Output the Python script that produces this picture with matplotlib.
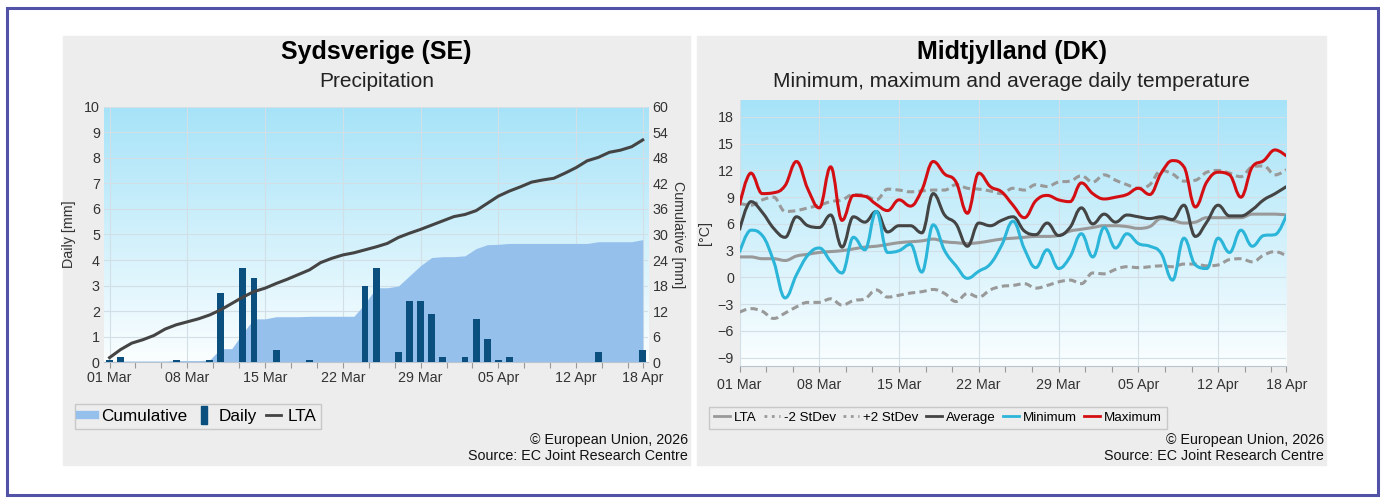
"""
Precipitation (Sydsverige) and temperature (Midtjylland) panels
"""

import numpy as np
import matplotlib
matplotlib.use('Agg')
import matplotlib.pyplot as plt
from matplotlib.path import Path
from matplotlib.patches import PathPatch, Rectangle
from matplotlib.lines import Line2D
from matplotlib.colors import LinearSegmentedColormap

plt.rcParams['font.family'] = ['Liberation Sans', 'DejaVu Sans']

# ---- data -------------------------------------------------------------
days = np.arange(49)  # 01 Mar .. 18 Apr
tick_pos = [0, 7, 14, 21, 28, 35, 42, 48]
tick_labels = ['01 Mar', '08 Mar', '15 Mar', '22 Mar', '29 Mar', '05 Apr', '12 Apr', '18 Apr']

daily_precip = [0.1, 0.2, 0, 0, 0, 0, 0.1, 0, 0, 0.1,
                2.7, 0, 3.7, 3.3, 0, 0.5, 0, 0, 0.1, 0,
                0, 0, 0, 3.0, 3.7, 0, 0.4, 2.4, 2.4, 1.9,
                0.2, 0, 0.2, 1.7, 0.9, 0.1, 0.2, 0, 0, 0,
                0, 0, 0, 0, 0.4, 0, 0, 0, 0.5]
precip_lta = [1.1, 3.0, 4.5, 5.3, 6.3, 7.8, 8.8, 9.5, 10.2, 11.1,
              12.3, 13.8, 15.3, 16.6, 17.4, 18.5, 19.5, 20.6, 21.7, 23.4,
              24.4, 25.2, 25.7, 26.4, 27.1, 27.9, 29.3, 30.3, 31.2, 32.2,
              33.2, 34.2, 34.7, 35.6, 37.3, 39.0, 40.2, 41.2, 42.3, 42.8,
              43.2, 44.4, 45.7, 47.3, 48.1, 49.3, 49.8, 50.6, 52.2]

t_max = [8.1, 11.7, 9.4, 9.5, 10.3, 13.0, 9.9, 7.8, 12.4, 6.4,
         9.2, 9.1, 8.2, 7.5, 8.7, 8.0, 9.8, 13.0, 11.6, 10.7,
         7.2, 11.7, 10.2, 9.6, 8.1, 6.7, 8.6, 9.2, 8.7, 8.5,
         10.6, 9.4, 8.8, 9.0, 9.3, 10.0, 9.3, 11.7, 13.1, 12.4,
         7.9, 10.7, 11.8, 11.5, 9.0, 12.4, 13.1, 14.3, 13.6]
t_avg = [5.3, 8.5, 7.3, 5.5, 4.5, 6.8, 5.8, 5.6, 7.0, 3.4,
         6.8, 6.2, 7.4, 5.1, 5.8, 5.8, 5.0, 9.4, 7.0, 6.0,
         3.5, 6.1, 5.8, 6.4, 6.8, 5.2, 4.8, 6.1, 4.7, 5.6,
         7.8, 6.0, 7.1, 6.2, 7.0, 6.8, 6.6, 6.8, 6.5, 8.1,
         4.6, 6.2, 8.1, 6.9, 6.9, 7.6, 8.7, 9.4, 10.2]
t_min = [2.8, 5.3, 4.7, 1.8, -2.3, 0.3, 2.5, 3.3, 1.8, 0.5,
         4.5, 3.1, 7.4, 2.8, 3.0, 3.7, 0.6, 5.9, 3.0, 1.3,
         -0.1, 0.7, 1.5, 3.6, 6.3, 3.2, 1.1, 3.1, 1.0, 2.3,
         4.9, 2.3, 5.6, 3.3, 4.9, 3.8, 3.5, 2.7, -0.3, 4.4,
         1.4, 1.0, 4.4, 2.8, 5.3, 3.5, 4.7, 4.8, 7.0]
t_lta = [2.3, 2.3, 2.1, 2.1, 1.9, 2.4, 2.6, 2.8, 2.9, 3.0,
         3.2, 3.4, 3.5, 3.7, 3.9, 4.0, 4.1, 4.3, 4.0, 3.9,
         3.8, 3.9, 4.1, 4.3, 4.4, 4.5, 4.6, 4.6, 4.7, 5.2,
         5.4, 5.6, 5.8, 5.8, 5.7, 5.5, 5.7, 6.6, 6.4, 6.1,
         6.2, 6.7, 6.7, 6.7, 6.7, 7.1, 7.1, 7.1, 7.0]
t_sd_hi = [8.3, 8.1, 8.7, 9.0, 7.4, 7.5, 7.8, 8.1, 8.5, 8.7,
           9.3, 9.2, 8.7, 9.9, 9.8, 9.6, 9.7, 9.8, 9.8, 10.4,
           10.0, 9.9, 9.7, 9.4, 10.0, 9.8, 10.4, 10.2, 10.7, 10.8,
           11.4, 10.7, 11.5, 10.9, 10.4, 10.0, 10.4, 12.0, 11.6, 10.8,
           10.9, 11.8, 12.0, 11.7, 11.3, 12.4, 12.5, 11.5, 12.1]
t_sd_lo = [-3.9, -3.5, -3.8, -4.6, -4.0, -3.3, -2.8, -2.8, -2.4, -3.1,
           -2.6, -2.4, -1.4, -2.2, -2.0, -1.75, -1.6, -1.35, -1.8, -2.7,
           -1.8, -2.2, -1.4, -1.0, -0.9, -0.7, -1.2, -0.9, -0.5, -0.3,
           -0.7, 0.5, 0.4, 0.9, 1.2, 1.1, 1.2, 1.3, 1.2, 1.5,
           1.5, 1.3, 1.4, 2.0, 2.1, 1.75, 2.5, 2.9, 2.4]

# ---- layout helpers ---------------------------------------------------
W, H = 1389, 499
PANEL = '#ededed'
TXT = '#333333'


def fx(px):
    return px / W


def fy(py):
    return 1 - py / H


def spline_path(x, y, smoothing=1.5):
    """Bezier path through the points, like a Highcharts spline"""
    x = np.asarray(x, float)
    y = np.asarray(y, float)
    n = len(x)
    left = [(x[i], y[i]) for i in range(n)]
    right = [(x[i], y[i]) for i in range(n)]
    den = smoothing + 1
    for i in range(1, n - 1):
        lx = (smoothing * x[i] + x[i - 1]) / den
        ly = (smoothing * y[i] + y[i - 1]) / den
        rx = (smoothing * x[i] + x[i + 1]) / den
        ry = (smoothing * y[i] + y[i + 1]) / den
        corr = (ry - ly) * (rx - x[i]) / (rx - lx) + y[i] - ry
        ly += corr
        ry += corr
        if ly > y[i - 1] and ly > y[i]:
            ly = max(y[i - 1], y[i]); ry = 2 * y[i] - ly
        elif ly < y[i - 1] and ly < y[i]:
            ly = min(y[i - 1], y[i]); ry = 2 * y[i] - ly
        if ry > y[i + 1] and ry > y[i]:
            ry = max(y[i + 1], y[i]); ly = 2 * y[i] - ry
        elif ry < y[i + 1] and ry < y[i]:
            ry = min(y[i + 1], y[i]); ly = 2 * y[i] - ry
        left[i] = (lx, ly)
        right[i] = (rx, ry)
    verts = [(x[0], y[0])]
    codes = [Path.MOVETO]
    for i in range(1, n):
        verts += [right[i - 1], left[i], (x[i], y[i])]
        codes += [Path.CURVE4] * 3
    return Path(verts, codes)


def sky_background(ax):
    cmap = LinearSegmentedColormap.from_list('sky', ['#fbfeff', '#a6e3f8'])
    grad = np.linspace(0, 1, 256).reshape(-1, 1)
    ax.imshow(grad, cmap=cmap, aspect='auto', extent=[0, 1, 0, 1],
              transform=ax.transAxes, origin='lower', zorder=0)


def style_xaxis(ax):
    ax.set_xticks(tick_pos)
    ax.set_xticklabels(tick_labels)
    ax.set_xticks(np.arange(0, 48, 7 / 3), minor=True)
    ax.tick_params(axis='x', which='both', length=4, width=0.8, color='#999999',
                   labelsize=10.3, labelcolor=TXT, pad=2.5)
    for s in ['top', 'left', 'right']:
        ax.spines[s].set_visible(False)
    ax.spines['bottom'].set_color('#b8c4d0')


fig = plt.figure(figsize=(W / 100, H / 100), dpi=100)

# outer border and panel backgrounds
fig.patches.append(Rectangle((fx(7.5), fy(494.5)), fx(1370), (487 / H),
                             transform=fig.transFigure, fill=False,
                             edgecolor='#5252a8', lw=2.2, zorder=-2))
fig.patches.append(Rectangle((fx(63), fy(465)), fx(627), 429 / H,
                             transform=fig.transFigure, color=PANEL, zorder=-2))
fig.patches.append(Rectangle((fx(697), fy(465)), fx(629), 429 / H,
                             transform=fig.transFigure, color=PANEL, zorder=-2))

# ---- left: precipitation ---------------------------------------------
rect_l = [fx(104), fy(362.3), fx(544.3), 255.6 / H]
axc = fig.add_axes(rect_l, zorder=0)       # cumulative area + background
ax = axc.twinx()                            # daily bars
ax.set_zorder(1)
axl = axc.twinx()                           # LTA line on top
axl.set_zorder(2)

sky_background(axc)
cum = np.cumsum(daily_precip)
axc.fill_between(days, cum, color='#96c0ec', lw=0, zorder=2)
axc.set_xlim(-0.5, 48.5)
axc.set_ylim(0, 60)
axc.set_yticks(np.arange(0, 61, 6))
axc.yaxis.tick_right()
axc.yaxis.set_label_position('right')
axc.tick_params(axis='y', length=0, labelsize=10.3, labelcolor=TXT, pad=3)
axc.grid(True, color='#d3dfe7', lw=0.8, zorder=1)
axc.set_axisbelow(True)
axc.set_ylabel('Cumulative [mm]', rotation=270, fontsize=10.3, color=TXT, labelpad=12)
style_xaxis(axc)

ax.patch.set_visible(False)
ax.bar(days, daily_precip, width=0.62, color='#0b4f7f', lw=0)
ax.set_ylim(0, 10)
ax.set_yticks(range(0, 11))
ax.yaxis.tick_left()
ax.yaxis.set_label_position('left')
ax.tick_params(axis='y', length=0, labelsize=10.3, labelcolor=TXT, pad=3)
ax.set_ylabel('Daily [mm]', fontsize=10.3, color=TXT, labelpad=6)
for s in ax.spines.values():
    s.set_visible(False)

axl.patch.set_visible(False)
axl.plot(days, precip_lta, color='#444444', lw=2.2)
axl.set_ylim(0, 60)
axl.set_yticks([])
axl.set_xlim(-0.5, 48.5)
for s in axl.spines.values():
    s.set_visible(False)

fig.text(fx(376.5), fy(52), 'Sydsverige (SE)', ha='center', va='center',
         fontsize=18, fontweight='bold', color='#000000')
fig.text(fx(376.5), fy(82), 'Precipitation', ha='center', va='center',
         fontsize=15, color='#222222')

bar_marker = [(-0.35, -1), (0.35, -1), (0.35, 1), (-0.35, 1), (-0.35, -1)]
handles_l = [Line2D([], [], color='#96c0ec', lw=6),
             Line2D([], [], color='#0b4f7f', marker=bar_marker, ms=13, ls='none'),
             Line2D([], [], color='#444444', lw=2)]
fig.legend(handles_l, ['Cumulative', 'Daily', 'LTA'], loc='upper left',
           bbox_to_anchor=(fx(75), fy(404)), borderaxespad=0, ncol=3,
           fontsize=12.3, handlelength=0.85, handletextpad=0.4, columnspacing=0.55,
           borderpad=0.3, fancybox=False, edgecolor='#c8c8c8', facecolor=PANEL,
           framealpha=1)

# ---- right: temperature ----------------------------------------------
ax_t = fig.add_axes([fx(739.5), fy(365.7), fx(547), 265.7 / H])
sky_background(ax_t)
series = [
    (t_lta, '#999999', '-', 'LTA'),
    (t_sd_lo, '#999999', (0, (2.4, 1.4)), '-2 StDev'),
    (t_sd_hi, '#999999', (0, (2.4, 1.4)), '+2 StDev'),
    (t_avg, '#444444', '-', 'Average'),
    (t_min, '#2bb5d9', '-', 'Minimum'),
    (t_max, '#d40f14', '-', 'Maximum'),
]
handles_r = []
for z, (vals, col, ls, lab) in enumerate(series):
    ax_t.add_patch(PathPatch(spline_path(days, vals), fill=False, edgecolor=col,
                             lw=2.2, linestyle=ls, capstyle='butt', zorder=3 + z))
    hls = ':' if lab.endswith('StDev') else '-'
    handles_r.append(Line2D([], [], color=col, lw=2.0, ls=hls))
ax_t.set_xlim(0, 48)
ax_t.set_ylim(-9.9, 19.9)
ax_t.set_yticks(range(-9, 19, 3))
ax_t.tick_params(axis='y', length=0, labelsize=10.3, labelcolor=TXT, pad=4)
ax_t.grid(True, color='#d3dfe7', lw=0.8, zorder=1)
ax_t.set_axisbelow(True)
ax_t.set_ylabel('[°C]', fontsize=10.3, color=TXT, labelpad=4)
style_xaxis(ax_t)
ax_t.tick_params(axis='x', which='both', pad=5)

fig.text(fx(1011.5), fy(52), 'Midtjylland (DK)', ha='center', va='center',
         fontsize=18, fontweight='bold', color='#000000')
fig.text(fx(1011.5), fy(82), 'Minimum, maximum and average daily temperature',
         ha='center', va='center', fontsize=15, color='#222222')

fig.legend(handles_r, [s[3] for s in series], loc='upper left',
           bbox_to_anchor=(fx(709), fy(407)), borderaxespad=0, ncol=6,
           fontsize=9.6, handlelength=1.2, handletextpad=0.3, columnspacing=0.55,
           borderpad=0.35, fancybox=False, edgecolor='#c8c8c8', facecolor=PANEL,
           framealpha=1)

# ---- credits ------------------------------------------------------------
for x_right in (688, 1324):
    fig.text(fx(x_right), fy(440), '© European Union, 2026', ha='right',
             va='center', fontsize=10.3, color='#111111')
    fig.text(fx(x_right), fy(456), 'Source: EC Joint Research Centre', ha='right',
             va='center', fontsize=10.3, color='#111111')

fig.savefig('out.png', dpi=100)
plt.close(fig)
